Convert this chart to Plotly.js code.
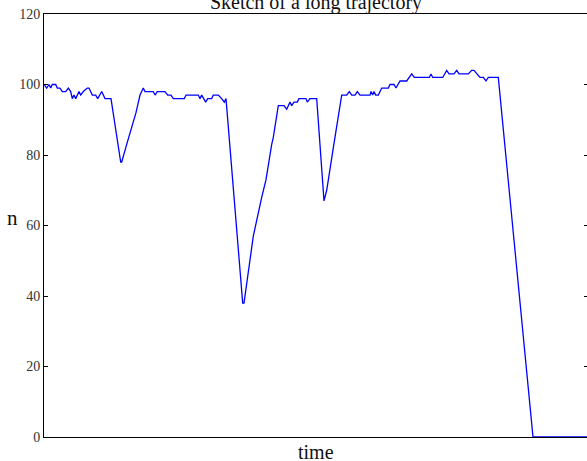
<!DOCTYPE html>
<html>
<head>
<meta charset="utf-8">
<script src="https://cdn.plot.ly/plotly-3.0.1.min.js"></script>
<style>html,body{margin:0;padding:0;overflow:hidden;background:#fff;}</style>
</head>
<body>
<div id="chart"></div>
<script>
// time (arbitrary units) and population n of the trajectory
const time = [
  0,2.7,5,6.7,8.3,11.7,13.3,16,18.3,21.7,24.3,26.7,28.3,30,31.7,35,36.7,39.3,43.3,45,48.3,51.7,53.7,57.7,61,67,
  76.7,77.7,82.7,87.7,92,96,99.3,101,107.7,109.3,111,113.3,121,123.7,127,129.3,140.3,142,154.3,156,157.7,161.7,163.7,167.7,169.3,174.3,177.7,180.3,182,
  198.7,200,209.3,217.7,222,227.7,229.3,234.3,240,242.7,246,247.7,250,253.3,255,262,263.3,266,272.7,
  280,282.7,289.3,297.7,302.7,305.3,307.7,311,313.3,316,326,327,328.7,330,331.7,334.3,337.7,344.3,346,350,352,356,362.7,365,367.7,370.3,385.3,387,388.7,398.7,401,402.7,405,410,412.7,415,424.3,427.7,430,432.7,436,439.3,442,444.3,454.3,
  489,546
];
const n = [
  100,99,100,99,100,100,99,99,98,98,99,98,96,97,96,98,97,98,99,99,97,97,96,98,96,96,
  78,78,83,88,92,97,99,98,98,98,97,98,98,97,97,96,96,97,97,96,97,95,96,96,97,97,96,95,96,
  38,38,57,68,73,83,85,94,94,93,95,94,95,95,96,96,95,96,96,
  67,70,82,97,97,98,97,97,98,97,97,98,97,98,97,97,99,99,100,100,99,101,101,102,103,102,102,103,102,102,103,104,103,103,104,103,103,104,104,103,102,102,101,102,102,
  0,0
];
const yTicks = [0,20,40,60,80,100,120];
const titleText = "Sketch of a long trajectory";
const xLabel = "time";
const yLabel = "n";

const serif = "Liberation Serif, Times New Roman, serif";

const trace = {
  x: time, y: n, type: "scatter", mode: "lines",
  line: {color: "#0000ff", width: 1.3},
  hoverinfo: "skip"
};

const layout = {
  width: 588, height: 461,
  margin: {l: 44, r: 0, t: 14, b: 24, pad: 0},
  paper_bgcolor: "#fff", plot_bgcolor: "#fff",
  showlegend: false,
  font: {family: serif, color: "#222"},
  title: {
    text: titleText,
    font: {family: serif, size: 20, color: "#111"},
    x: 0.5374, xref: "container", xanchor: "center",
    y: 0.9957, yref: "container", yanchor: "middle"
  },
  xaxis: {
    range: [0, 544], showgrid: false, zeroline: false,
    showline: true, linecolor: "#000", linewidth: 1, mirror: true,
    ticks: "", showticklabels: false, fixedrange: true
  },
  yaxis: {
    range: [0, 120], tickvals: yTicks, ticktext: yTicks.map(String),
    showgrid: false, zeroline: false,
    showline: true, linecolor: "#000", linewidth: 1, mirror: "ticks",
    ticks: "inside", ticklen: 4, tickwidth: 1, tickcolor: "#000",
    tickfont: {family: serif, size: 14, color: "#333"},
    fixedrange: true
  },
  annotations: [
    {text: yLabel, xref: "paper", yref: "paper", x: -0.0574, y: 0.5177,
     xanchor: "center", yanchor: "middle", showarrow: false,
     font: {family: serif, size: 21, color: "#111"}},
    {text: xLabel, xref: "paper", yref: "paper", x: 0.5, y: -0.004,
     xanchor: "center", yanchor: "top", showarrow: false,
     font: {family: serif, size: 20, color: "#111"}}
  ]
};

Plotly.newPlot("chart", [trace], layout, {displayModeBar: false, staticPlot: true});
</script>
</body>
</html>
